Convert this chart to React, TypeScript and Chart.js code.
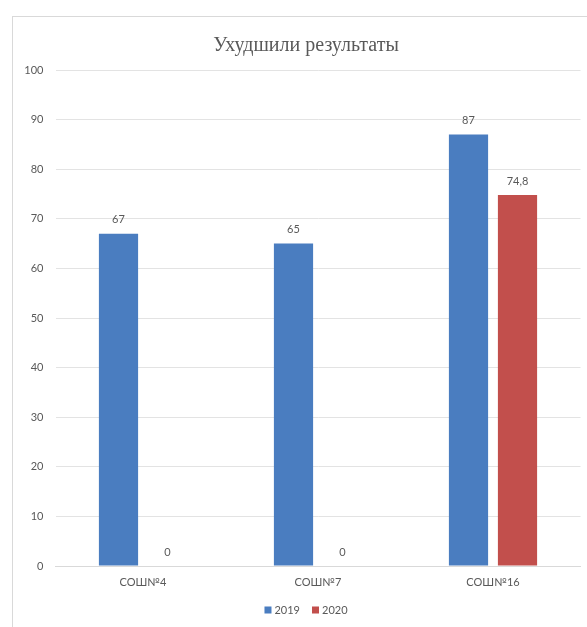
import React, { useEffect, useRef } from "react";
import { Chart, registerables } from "chart.js";

Chart.register(...registerables);

const TITLE = "Ухудшили результаты";
const CATEGORIES = ["СОШ№4", "СОШ№7", "СОШ№16"];
const SERIES_NAMES = ["2019", "2020"];
const VALUES_2019 = [67, 65, 87];
const VALUES_2020 = [0, 0, 74.8];
const COLORS = ["#4a7dc0", "#c24f4c"];
const Y_MIN = 0;
const Y_MAX = 100;
const Y_STEP = 10;

const LABEL_FONT = "Lato, 'Open Sans', sans-serif";
const TEXT_COLOR = "#595959";

const fmt = (v: number) => String(v).replace(".", ",");

const framePlugin = {
  id: "frame",
  beforeDraw(chart: any) {
    const ctx = chart.ctx;
    ctx.save();
    ctx.fillStyle = "#ffffff";
    ctx.fillRect(0, 0, chart.width, chart.height);
    ctx.strokeStyle = "#d9d9d9";
    ctx.lineWidth = 1;
    ctx.strokeRect(12.5, 16.5, 700, 700);
    ctx.restore();
  },
};

const titlePlugin = {
  id: "customTitle",
  afterDraw(chart: any) {
    const ctx = chart.ctx;
    ctx.save();
    ctx.font = "20px 'Liberation Serif', 'DejaVu Serif', serif";
    ctx.fillStyle = "#595959";
    ctx.textAlign = "center";
    ctx.textBaseline = "middle";
    ctx.fillText(TITLE, 306, 46);
    ctx.restore();
  },
};

const dataLabelPlugin = {
  id: "dataLabels",
  afterDatasetsDraw(chart: any) {
    const ctx = chart.ctx;
    ctx.save();
    ctx.font = `11px ${LABEL_FONT}`;
    ctx.fillStyle = TEXT_COLOR;
    ctx.textAlign = "center";
    ctx.textBaseline = "middle";
    chart.data.datasets.forEach((ds: any, i: number) => {
      const meta = chart.getDatasetMeta(i);
      meta.data.forEach((el: any, j: number) => {
        const v = ds.data[j];
        ctx.fillText(fmt(v), el.x, el.y - 14);
      });
    });
    ctx.restore();
  },
};

const legendPlugin = {
  id: "customLegend",
  afterDraw(chart: any) {
    const ctx = chart.ctx;
    ctx.save();
    ctx.font = `11px ${LABEL_FONT}`;
    ctx.textBaseline = "middle";
    ctx.textAlign = "left";
    const y = 610;
    const box = 7;
    const gapBoxText = 3;
    const gapItems = 12;
    const items = chart.data.datasets.map((d: any) => ({
      text: d.label,
      color: d.backgroundColor,
      w: box + gapBoxText + ctx.measureText(d.label).width,
    }));
    const total =
      items.reduce((s: number, it: any) => s + it.w, 0) +
      gapItems * (items.length - 1);
    let x = 306 - total / 2;
    items.forEach((it: any) => {
      ctx.fillStyle = it.color;
      ctx.fillRect(x, y - box / 2, box, box);
      ctx.fillStyle = TEXT_COLOR;
      ctx.fillText(it.text, x + box + gapBoxText, y);
      x += it.w + gapItems;
    });
    ctx.restore();
  },
};

export default function App() {
  const ref = useRef<HTMLCanvasElement>(null);
  useEffect(() => {
    if (!ref.current) return;
    const chart = new Chart(ref.current, {
      type: "bar",
      data: {
        labels: CATEGORIES,
        datasets: [
          {
            label: SERIES_NAMES[0],
            data: VALUES_2019,
            backgroundColor: COLORS[0],
            categoryPercentage: 0.56,
            barPercentage: 0.8,
          },
          {
            label: SERIES_NAMES[1],
            data: VALUES_2020,
            backgroundColor: COLORS[1],
            categoryPercentage: 0.56,
            barPercentage: 0.8,
          },
        ],
      },
      options: {
        responsive: false,
        animation: false,
        devicePixelRatio: 1,
        layout: { padding: { top: 70, left: 12, right: 6.5, bottom: 31 } },
        plugins: {
          legend: { display: false },
          title: { display: false },
          tooltip: { enabled: false },
        },
        scales: {
          x: {
            grid: { display: false, drawTicks: false },
            border: { display: true, color: "#d9d9d9" },
            ticks: {
              color: TEXT_COLOR,
              font: { family: LABEL_FONT, size: 11 },
              padding: 10,
            },
            afterFit: (s: any) => {
              s.height = 30;
            },
          },
          y: {
            min: Y_MIN,
            max: Y_MAX,
            grid: { color: "#e3e3e3", drawTicks: false },
            border: { display: false },
            ticks: {
              stepSize: Y_STEP,
              color: TEXT_COLOR,
              font: { family: LABEL_FONT, size: 11 },
              padding: 12,
            },
            afterFit: (s: any) => {
              s.width = 43.5;
            },
          },
        },
      },
      plugins: [framePlugin, titlePlugin, dataLabelPlugin, legendPlugin],
    });
    return () => chart.destroy();
  }, []);
  return (
    <div style={{ position: "fixed", left: 0, top: 0, width: 587, height: 627, background: "#fff" }}>
      <canvas ref={ref} width={587} height={627} style={{ display: "block" }} />
    </div>
  );
}
